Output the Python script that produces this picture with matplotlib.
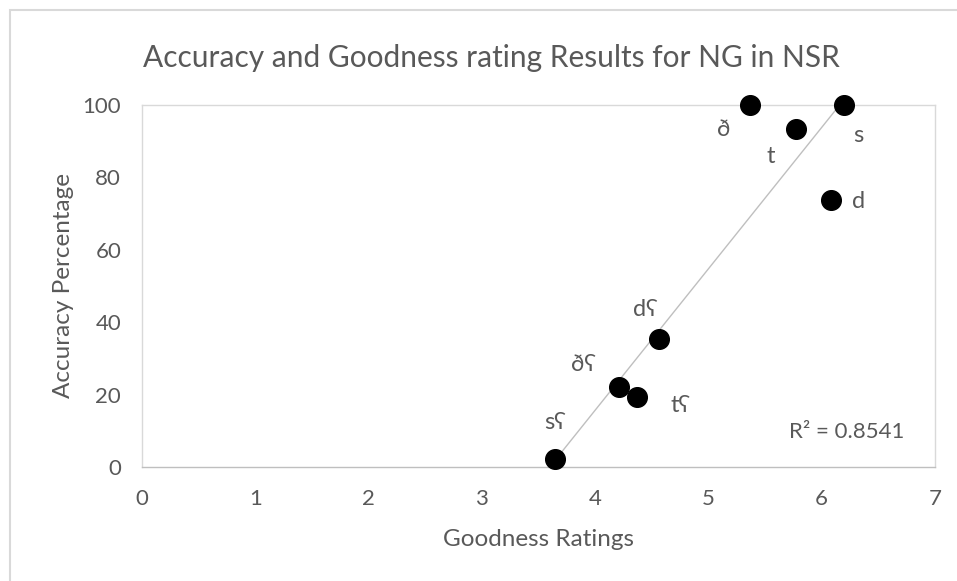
import numpy as np
import matplotlib.pyplot as plt
from matplotlib.patches import Rectangle

labels = ["sʕ", "ðʕ", "tʕ", "dʕ", "ð", "t", "s", "d"]
goodness = [3.65, 4.21, 4.37, 4.56, 5.37, 5.77, 6.20, 6.08]
accuracy = [2.2, 22.1, 19.3, 35.4, 100.0, 93.4, 100.0, 73.8]
label_offsets = [(-1.5, 26), (-27, 16), (30, -6), (-11, 21), (-19, -18), (-18, -20), (10, -22), (20, -1)]

x_ticks = [0, 1, 2, 3, 4, 5, 6, 7]
y_ticks = [0, 20, 40, 60, 80, 100]

plt.rcParams['font.family'] = ['Lato', 'DejaVu Sans']
gray = '#595959'

fig = plt.figure(figsize=(9.57, 5.81), dpi=100)
fig.patches.append(Rectangle((10/957, -0.1), 1.2, 1.1 - 10/581, transform=fig.transFigure,
                             fill=False, edgecolor='#d9d9d9', linewidth=1.5))
ax = fig.add_axes([142/957, 114/581, 793/957, 362/581])

ax.scatter(goodness, accuracy, s=200, color='black', zorder=3, clip_on=False)

coef = np.polyfit(goodness, accuracy, 1)
xs = np.array([min(goodness), max(goodness)])
ax.plot(xs, np.polyval(coef, xs), color='#bfbfbf', linewidth=1, zorder=2)

for lab, x, y, (dx, dy) in zip(labels, goodness, accuracy, label_offsets):
    ax.annotate(lab, (x, y), xytext=(dx, dy), textcoords='offset points',
                ha='center', va='center', fontsize=17, color=gray,
                family=['Lato', 'DejaVu Sans'])

ax.text(0.962, 0.097, "R² = 0.8541", transform=ax.transAxes, ha='right', va='center',
        fontsize=16, color=gray)

ax.set_xlim(0, 7)
ax.set_ylim(0, 100)
ax.set_xticks(x_ticks)
ax.set_yticks(y_ticks)
ax.tick_params(axis='x', length=0, labelsize=16, colors=gray, pad=16)
ax.tick_params(axis='y', length=0, labelsize=16, colors=gray, pad=15)
for sp in ax.spines.values():
    sp.set_color('#d9d9d9')
    sp.set_linewidth(1)
ax.spines['bottom'].set_color('#bfbfbf')

ax.set_xlabel("Goodness Ratings", fontsize=17.5, color=gray)
ax.xaxis.set_label_coords(0.5, -(529 - 467) / 362)
ax.set_ylabel("Accuracy Percentage", fontsize=17.5, color=gray)
ax.yaxis.set_label_coords(-(142 - 74) / 793, 0.5)
fig.text(491/957, 1 - 58/581, "Accuracy and Goodness rating Results for NG in NSR",
         ha='center', va='center', fontsize=21.5, color=gray)

fig.savefig("out.png", dpi=100)
